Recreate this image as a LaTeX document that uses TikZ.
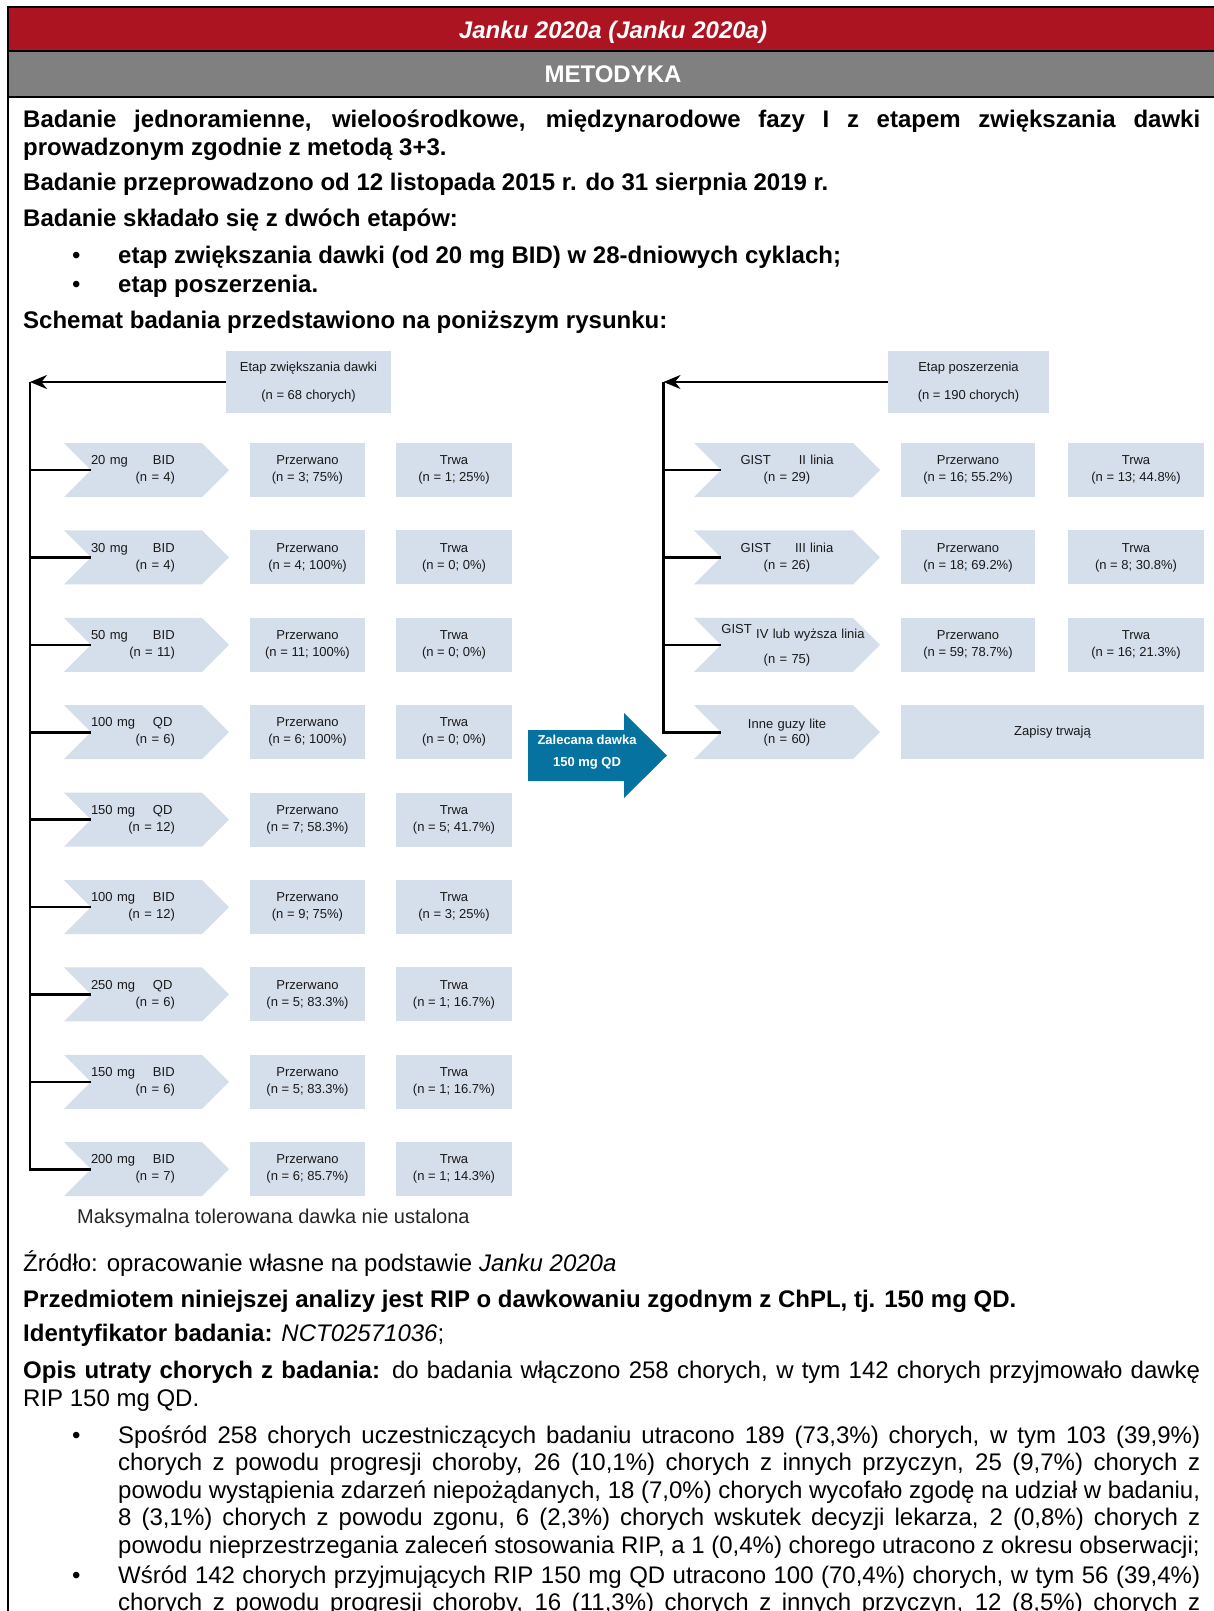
\documentclass[tikz,border=0pt]{standalone}
\usepackage{fontspec}
\setmainfont{Liberation Sans}
\usetikzlibrary{arrows.meta,positioning,shapes.symbols}
\definecolor{tblred}{RGB}{173,20,34}
\definecolor{tblgray}{RGB}{128,128,128}
\definecolor{boxfill}{RGB}{213,222,235}
\definecolor{doseblue}{RGB}{6,114,160}
\newcommand{\doselabel}[3]{\makebox[62pt][l]{#1}#2\\\makebox[84pt][r]{(n = #3)}}

\begin{document}
\begin{tikzpicture}[
    x=1pt, y=-1pt,
    txt/.style={anchor=base west, inner sep=0pt, font=\fontsize{24}{27.5}\selectfont},
    para/.style={txt, text width=#1, align=justify, execute at begin node={\hyphenpenalty=10000\tolerance=9999}},
    para/.default=1177pt,
    dose/.style={signal, signal to=east, signal from=west, signal pointer angle=90, fill=boxfill, minimum height=54pt, inner sep=0pt, text width=111pt, align=left, font=\fontsize{13}{17}\selectfont, text=black!90},
    cohort/.style={dose, text width=132pt, align=center},
    res/.style={rectangle, fill=boxfill, minimum width=#1, minimum height=54pt, inner sep=0pt, align=center, font=\fontsize{13}{17}\selectfont, text=black!90},
    head/.style={res=#1, minimum height=62pt, font=\fontsize{13}{28}\selectfont},
    arrow/.style={-{Stealth[length=17pt, width=14pt]}, line width=2.4pt},
    branch/.style={line width=2.6pt}
]
\useasboundingbox (0,0) rectangle (1213,1611);

% Table header
\fill[tblred] (8,7) rectangle (1225,51);
\fill[tblgray] (8,51) rectangle (1225,97);
\draw[line width=1.6pt] (8,51) -- (1225,51);
\draw[line width=2pt] (8,97) -- (1225,97);
\draw[line width=2.2pt] (1225,7) -- (8,7) -- (8,1625);
\node[txt, anchor=base, text=white] (study) at (613,38.6) {\bfseries\itshape Janku 2020a (Janku 2020a)};
\node[txt, anchor=base, text=white] (method) at (613,82.6) {\bfseries METODYKA};

% Study description
\node[para] (design) at (23,127.7) {\bfseries Badanie jednoramienne, wieloośrodkowe, międzynarodowe fazy I z etapem zwiększania dawki\linebreak prowadzonym zgodnie z metodą 3+3.};
\node[txt] (dates) at (23,190.3) {\bfseries Badanie przeprowadzono od 12 listopada 2015 r. do 31 sierpnia 2019 r.};
\node[txt] (stages) at (23,226.3) {\bfseries Badanie składało się z dwóch etapów:};
\node[txt] (b1) at (72,263.2) {•};
\node[txt] (stage1) at (118,263.2) {\bfseries etap zwiększania dawki (od 20 mg BID) w 28-dniowych cyklach;};
\node[txt] (b2) at (72,292) {•};
\node[txt] (stage2) at (118,292) {\bfseries etap poszerzenia.};
\node[txt] (scheme) at (23,328) {\bfseries Schemat badania przedstawiono na poniższym rysunku:};

% Dose escalation
\node[head=165pt] (esc) at (308.5,382) {Etap zwiększania dawki\\(n = 68 chorych)};
\coordinate (escspine) at (30,382);
\draw[arrow] (esc) -- (escspine);

\node[dose] (d20b) at (146.5,470) {\doselabel{20 mg}{BID}{4}};
\node[dose] (d30b) at (146.5,557.4) {\doselabel{30 mg}{BID}{4}};
\node[dose] (d50b) at (146.5,644.8) {\doselabel{50 mg}{BID}{11}};
\node[dose] (d100q) at (146.5,732.2) {\doselabel{100 mg}{QD}{6}};
\node[dose] (d150q) at (146.5,819.6) {\doselabel{150 mg}{QD}{12}};
\node[dose] (d100b) at (146.5,907) {\doselabel{100 mg}{BID}{12}};
\node[dose] (d250q) at (146.5,994.4) {\doselabel{250 mg}{QD}{6}};
\node[dose] (d150b) at (146.5,1081.8) {\doselabel{150 mg}{BID}{6}};
\node[dose] (d200b) at (146.5,1169.2) {\doselabel{200 mg}{BID}{7}};

\node[res=115pt] (p20b) at (307.5,470) {Przerwano\\(n = 3; 75\%)};
\node[res=115pt] (p30b) at (307.5,557.4) {Przerwano\\(n = 4; 100\%)};
\node[res=115pt] (p50b) at (307.5,644.8) {Przerwano\\(n = 11; 100\%)};
\node[res=115pt] (p100q) at (307.5,732.2) {Przerwano\\(n = 6; 100\%)};
\node[res=115pt] (p150q) at (307.5,819.6) {Przerwano\\(n = 7; 58.3\%)};
\node[res=115pt] (p100b) at (307.5,907) {Przerwano\\(n = 9; 75\%)};
\node[res=115pt] (p250q) at (307.5,994.4) {Przerwano\\(n = 5; 83.3\%)};
\node[res=115pt] (p150b) at (307.5,1081.8) {Przerwano\\(n = 5; 83.3\%)};
\node[res=115pt] (p200b) at (307.5,1169.2) {Przerwano\\(n = 6; 85.7\%)};

\node[res=116pt] (t20b) at (454,470) {Trwa\\(n = 1; 25\%)};
\node[res=116pt] (t30b) at (454,557.4) {Trwa\\(n = 0; 0\%)};
\node[res=116pt] (t50b) at (454,644.8) {Trwa\\(n = 0; 0\%)};
\node[res=116pt] (t100q) at (454,732.2) {Trwa\\(n = 0; 0\%)};
\node[res=116pt] (t150q) at (454,819.6) {Trwa\\(n = 5; 41.7\%)};
\node[res=116pt] (t100b) at (454,907) {Trwa\\(n = 3; 25\%)};
\node[res=116pt] (t250q) at (454,994.4) {Trwa\\(n = 1; 16.7\%)};
\node[res=116pt] (t150b) at (454,1081.8) {Trwa\\(n = 1; 16.7\%)};
\node[res=116pt] (t200b) at (454,1169.2) {Trwa\\(n = 1; 14.3\%)};

\draw[branch] (escspine) |- (d200b.west);
\draw[branch] (escspine |- d20b.west) -- (d20b.west)
    (escspine |- d30b.west) -- (d30b.west)
    (escspine |- d50b.west) -- (d50b.west)
    (escspine |- d100q.west) -- (d100q.west)
    (escspine |- d150q.west) -- (d150q.west)
    (escspine |- d100b.west) -- (d100b.west)
    (escspine |- d250q.west) -- (d250q.west)
    (escspine |- d150b.west) -- (d150b.west);

\node[txt, font=\fontsize{20}{24}\selectfont, text=black!85] (mtd) at (77,1223) {Maksymalna tolerowana dawka nie ustalona};

% Recommended dose
\fill[doseblue] (528,730) -- (624,730) -- (624,713) -- (667,755.5) -- (624,798) -- (624,781) -- (528,781) -- cycle;
\node[font=\fontsize{13}{21.5}\selectfont\bfseries, text=white, align=center] (rec) at (587,752) {Zalecana dawka\\150 mg QD};

% Expansion
\node[head=161pt] (exp) at (968.5,382) {Etap poszerzenia\\(n = 190 chorych)};
\coordinate (expspine) at (663.5,382);
\draw[arrow] (exp) -- (expspine);

\node[cohort] (g2) at (787,470) {GIST\hspace{28pt}II linia\\(n = 29)};
\node[cohort] (g3) at (787,557.4) {GIST\hspace{24pt}III linia\\(n = 26)};
\node[cohort] (g4) at (787,644.8) {\makebox[132pt][c]{\hspace{12pt}\raisebox{5pt}{GIST} IV lub wyższa linia}\\[8pt](n = 75)};
\node[cohort] (solid) at (787,732.2) {Inne guzy lite\\[-2pt](n = 60)};

\node[res=134pt] (pg2) at (968,470) {Przerwano\\(n = 16; 55.2\%)};
\node[res=134pt] (pg3) at (968,557.4) {Przerwano\\(n = 18; 69.2\%)};
\node[res=134pt] (pg4) at (968,644.8) {Przerwano\\(n = 59; 78.7\%)};
\node[res=136pt] (tg2) at (1136,470) {Trwa\\(n = 13; 44.8\%)};
\node[res=136pt] (tg3) at (1136,557.4) {Trwa\\(n = 8; 30.8\%)};
\node[res=136pt] (tg4) at (1136,644.8) {Trwa\\(n = 16; 21.3\%)};
\node[res=303pt] (enrol) at (1052.5,732.2) {Zapisy trwają};

\draw[branch] (expspine) |- (solid.west);
\draw[branch] (expspine |- g2.west) -- (g2.west)
    (expspine |- g3.west) -- (g3.west)
    (expspine |- g4.west) -- (g4.west);

% Source and losses
\node[txt] (src) at (23,1271) {Źródło: opracowanie własne na podstawie \textit{Janku 2020a}};
\node[txt] (subj) at (23,1307) {\bfseries Przedmiotem niniejszej analizy jest RIP o dawkowaniu zgodnym z ChPL, tj. 150 mg QD.};
\node[txt] (nct) at (23,1341.5) {\textbf{Identyfikator badania:} \textit{NCT02571036};};
\node[para] (loss) at (23,1378.5) {\textbf{Opis utraty chorych z badania:} do badania włączono 258 chorych, w tym 142 chorych przyjmowało dawkę\linebreak RIP 150 mg QD.};
\node[txt] (b3) at (72,1443.3) {•};
\node[para=1082pt] (lossall) at (118,1443.3) {Spośród 258 chorych uczestniczących badaniu utracono 189 (73,3\%) chorych, w tym 103 (39,9\%)\linebreak chorych z powodu progresji choroby, 26 (10,1\%) chorych z innych przyczyn, 25 (9,7\%) chorych z\linebreak powodu wystąpienia zdarzeń niepożądanych, 18 (7,0\%) chorych wycofało zgodę na udział w badaniu,\linebreak 8 (3,1\%) chorych z powodu zgonu, 6 (2,3\%) chorych wskutek decyzji lekarza, 2 (0,8\%) chorych z\linebreak powodu nieprzestrzegania zaleceń stosowania RIP, a 1 (0,4\%) chorego utracono z okresu obserwacji;};
\node[txt] (b4) at (72,1583) {•};
\node[para=1082pt] (loss150) at (118,1583) {Wśród 142 chorych przyjmujących RIP 150 mg QD utracono 100 (70,4\%) chorych, w tym 56 (39,4\%)\linebreak chorych z powodu progresji choroby, 16 (11,3\%) chorych z innych przyczyn, 12 (8,5\%) chorych z\linebreak\mbox{}};

\end{tikzpicture}
\end{document}
